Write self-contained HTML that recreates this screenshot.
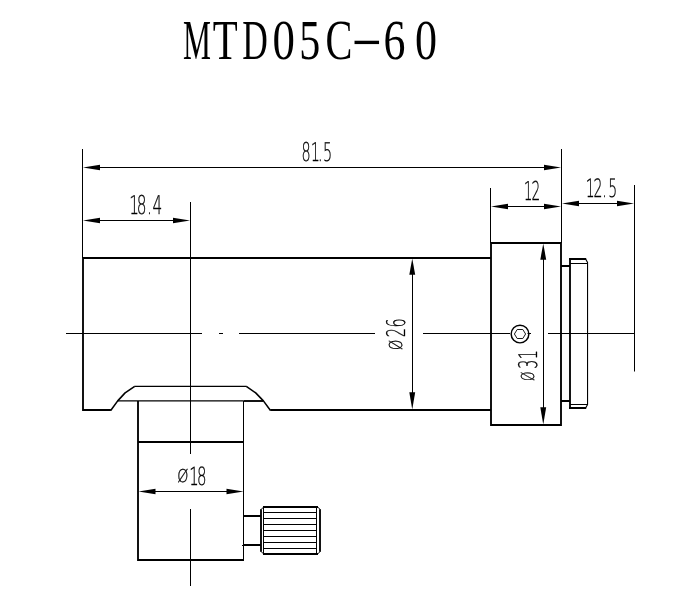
<!DOCTYPE html>
<html>
<head>
<meta charset="utf-8">
<title>MTD05C-60</title>
<style>
html,body{margin:0;padding:0;background:#fff;}
body{width:700px;height:607px;overflow:hidden;}
svg{display:block;filter:grayscale(1);}
text{text-rendering:geometricPrecision;}
.k{stroke:#000;stroke-width:1.85;fill:none;}
.m{stroke:#000;stroke-width:1.35;fill:none;}
.n{stroke:#000;stroke-width:1;fill:none;}
.s{stroke:#000;stroke-width:1.1;fill:none;}
.a{fill:#000;stroke:none;}
.d{font-family:"DejaVu Sans Light","DejaVu Sans","Liberation Sans",sans-serif;font-weight:200;fill:#000;stroke:#000;stroke-width:0.3;}
.t{font-family:"Liberation Serif",serif;font-size:56.5px;fill:#000;}
</style>
</head>
<body>
<svg width="700" height="607" viewBox="0 0 700 607">
<rect width="700" height="607" fill="#fff"/>
<g class="t">
<text y="59.4"><tspan x="183.02" y="59.4" textLength="27.97" lengthAdjust="spacingAndGlyphs">M</tspan><tspan x="212.86" y="59.4" textLength="24.94" lengthAdjust="spacingAndGlyphs">T</tspan><tspan x="242.16" y="59.4" textLength="25.60" lengthAdjust="spacingAndGlyphs">D</tspan><tspan x="272.62" y="59.4" textLength="22.42" lengthAdjust="spacingAndGlyphs">0</tspan><tspan x="299.28" y="59.4" textLength="20.98" lengthAdjust="spacingAndGlyphs">5</tspan><tspan x="325.62" y="59.4" textLength="26.92" lengthAdjust="spacingAndGlyphs">C</tspan><tspan x="351.04" y="52.5" textLength="31.49" lengthAdjust="spacingAndGlyphs" style="font-size:45px">-</tspan><tspan x="383.44" y="59.4" textLength="21.92" lengthAdjust="spacingAndGlyphs">6</tspan><tspan x="414.98" y="59.4" textLength="22.05" lengthAdjust="spacingAndGlyphs">0</tspan></text>
</g>
<g class="n">
<path d="M66 333.5H202M219 333.5H223M239 333.5H375M423 333.5H510M527.5 333.5H531M548 333.5H635"/>
<path d="M190.5 202V454M190.5 509V586"/>
<path d="M82.5 149V258M561.5 149V243M490.5 188V243M634.5 185V371.5"/>
<path d="M91.0 167.5H553.0"/>
<path d="M91.0 220.5H182.0"/>
<path d="M499.0 206.5H553.0"/>
<path d="M570.0 203.5H626.0"/>
<path d="M146.5 491.5H235.5"/>
<path d="M412.5 266.5V401.5"/>
<path d="M543.5 251.5V416.5"/>
</g>
<g class="a">
<path d="M83.0 167.5l17.0 -2.8v5.6z"/>
<path d="M561.0 167.5l-17.0 -2.8v5.6z"/>
<path d="M83.0 220.5l17.0 -2.8v5.6z"/>
<path d="M190.0 220.5l-17.0 -2.8v5.6z"/>
<path d="M491.0 206.5l17.0 -2.8v5.6z"/>
<path d="M561.0 206.5l-17.0 -2.8v5.6z"/>
<path d="M562.0 203.5l17.0 -2.8v5.6z"/>
<path d="M634.0 203.5l-17.0 -2.8v5.6z"/>
<path d="M138.5 491.5l17.0 -2.8v5.6z"/>
<path d="M243.5 491.5l-17.0 -2.8v5.6z"/>
<path d="M412.25 258.5l-2.95 16.2h5.9z"/>
<path d="M412.25 409.5l-2.95 -17.2h5.9z"/>
<path d="M543.25 243.5l-2.95 16.2h5.9z"/>
<path d="M543.25 424.5l-2.95 -17.2h5.9z"/>
</g>
<g class="k">
<path d="M110.9 410H83V258H491"/>
<path d="M270.3 410H491"/>
<path d="M491 243H561V425H491Z"/>
<path d="M561 266H570M561 401H570"/>
<path d="M570 258V409"/>
<path d="M569 259H586.2M569 408H586.2"/>
<path d="M138 401V560H244.0"/>
<path d="M138 442H244.0"/>
<path d="M243.5 401H263"/>
</g>
<g class="m">
<path d="M134.5 386.4H246.5"/>
<path d="M117.7 400.9H243.5"/>
</g>
<g class="m" style="stroke-width:1.55;stroke-linejoin:round">
<path d="M110.7 410.5L117.7 400.9L125.1 392.9L134.7 386.4M246.3 386.4L255.7 392.9L263.4 400.9L270.5 410.5"/>
</g>
<g class="s">
<path d="M585.6 259L587.55 262.4V404.6L585.6 408"/>
<path d="M570 263.5H587.5M570 404.5H587.5"/>
</g>
<path class="n" d="M243.5 401V560"/>
<circle cx="520" cy="334.0" r="8.85" fill="none" stroke="#000" stroke-width="1.45"/>
<path class="n" style="stroke-width:0.9" d="M514.4 334L517.2 329.5H522.8L525.6 334L522.8 338.5H517.2Z"/>
<g>
<path class="k" d="M243.5 516H261M243.5 545H261"/>
<path class="n" d="M242 545.5H244"/>
<path class="k" d="M263 507H318M263 554H318M261 509.2V551.8M320 509.2V551.8"/>
<path class="n" d="M261 509.6L263.4 507.2M318 507.2L320.2 509.6M261 551.4L263.4 553.8M318 553.8L320.2 551.4"/>
<path class="n" d="M263.5 507V554M316.5 507V554"/>
<path class="n" d="M263.5 512.5H316.5 M263.5 518.5H316.5 M263.5 524.5H316.5 M263.5 530.5H316.5 M263.5 536.5H316.5 M263.5 542.5H316.5 M263.5 548.5H316.5"/>
</g>
<g class="d">
<text transform="translate(301.51 160.60) scale(0.5565 1)" style="font-size:25.9px"><tspan x="0.00 16.68 29.84 38.83" y="0">81.5</tspan></text>
<text transform="translate(129.37 213.80) scale(0.5930 1)" style="font-size:25.9px"><tspan x="0.00 12.45 29.74 38.84" y="0">18.4</tspan></text>
<text transform="translate(523.66 199.80) scale(0.5294 1)" style="font-size:26.0px"><tspan x="0.00 14.70" y="0">12</tspan></text>
<text transform="translate(585.82 196.60) scale(0.5547 1)" style="font-size:25.3px"><tspan x="0.00 13.77 29.57 40.32" y="0">12.5</tspan></text>
<text transform="translate(177.30 484.60) scale(0.5989 1)" style="font-size:25.0px"><tspan x="0.00" y="-2.71" textLength="18.66" lengthAdjust="spacingAndGlyphs" style="font-size:17.76px">Ø</tspan><tspan x="20.13 32.69" y="0">18</tspan></text>
<text transform="translate(405.20 349.88) rotate(-90) scale(0.5710 1)" style="font-size:25.6px"><tspan x="0.00" y="-2.93" textLength="17.90" lengthAdjust="spacingAndGlyphs" style="font-size:17.76px">Ø</tspan><tspan x="21.99 39.31" y="0">26</tspan></text>
<text transform="translate(536.70 381.12) rotate(-90) scale(0.5580 1)" style="font-size:25.6px"><tspan x="0.00" y="-2.93" textLength="16.84" lengthAdjust="spacingAndGlyphs" style="font-size:17.76px">Ø</tspan><tspan x="22.12 39.15" y="0">31</tspan></text>
</g>
</svg>
</body>
</html>
